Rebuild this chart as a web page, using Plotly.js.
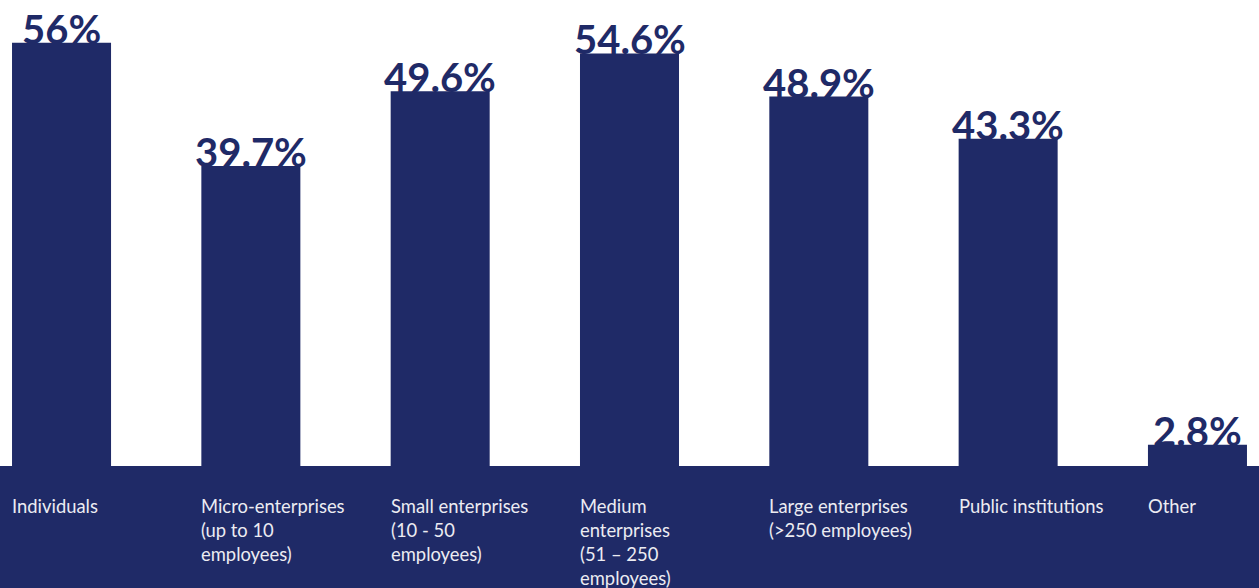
<!DOCTYPE html>
<html>
<head>
<meta charset="utf-8">
<script src="https://cdn.plot.ly/plotly-3.0.1.min.js"></script>
<style>
html,body{margin:0;padding:0;background:#fff;}
#chart{width:1259px;height:588px;}
</style>
</head>
<body>
<div id="chart"></div>
<script>
const categories = [
  "Individuals",
  "Micro-enterprises<br>(up to 10<br>employees)",
  "Small enterprises<br>(10 - 50<br>employees)",
  "Medium<br>enterprises<br>(51 – 250<br>employees)",
  "Large enterprises<br>(>250 employees)",
  "Public institutions",
  "Other"
];
const values = [56, 39.7, 49.6, 54.6, 48.9, 43.3, 2.8];
const valueLabels = ["56%", "39.7%", "49.6%", "54.6%", "48.9%", "43.3%", "2.8%"];

const NAVY = "#1f2a67";
const W = 1259, H = 588;
const baselinePx = 466;
const pxPerUnit = 7.556;
const barWidth = 0.523;
const xIdx = categories.map((_, i) => i);

const yTop = baselinePx / pxPerUnit;
const yBottom = -(H - baselinePx) / pxPerUnit;

const annotations = [];
values.forEach((v, i) => {
  annotations.push({
    x: i, y: v, xref: "x", yref: "y",
    text: valueLabels[i], showarrow: false,
    xanchor: "center", yanchor: "bottom", yshift: -12,
    font: {family: "Lato, 'Open Sans', sans-serif", size: 40, color: NAVY, weight: 700}
  });
});
categories.forEach((c, i) => {
  c.split("<br>").forEach((line, k) => {
    annotations.push({
      x: i - barWidth / 2, y: 1 - 506 / H, xref: "x", yref: "paper",
      text: line, showarrow: false,
      xanchor: "left", yanchor: "middle", xshift: -2, yshift: -24 * k, align: "left",
      font: {family: "Lato, 'Open Sans', sans-serif", size: 18.4, color: "#ececf2"}
    });
  });
});

const trace = {
  type: "bar",
  x: xIdx,
  y: values,
  width: barWidth,
  marker: {color: NAVY, line: {width: 0}},
  hoverinfo: "skip"
};

const layout = {
  width: W, height: H,
  margin: {l: 0, r: 0, t: 0, b: 0, pad: 0},
  paper_bgcolor: "#ffffff",
  plot_bgcolor: "rgba(0,0,0,0)",
  showlegend: false,
  xaxis: {range: [-0.325, 6.325], visible: false, fixedrange: true},
  yaxis: {range: [yBottom, yTop], visible: false, fixedrange: true},
  shapes: [{
    type: "rect", xref: "paper", yref: "y", x0: 0, x1: 1, y0: yBottom, y1: 0,
    fillcolor: NAVY, line: {width: 0}, layer: "below"
  }],
  annotations: annotations
};

Plotly.newPlot("chart", [trace], layout, {displayModeBar: false, staticPlot: true});
</script>
</body>
</html>
